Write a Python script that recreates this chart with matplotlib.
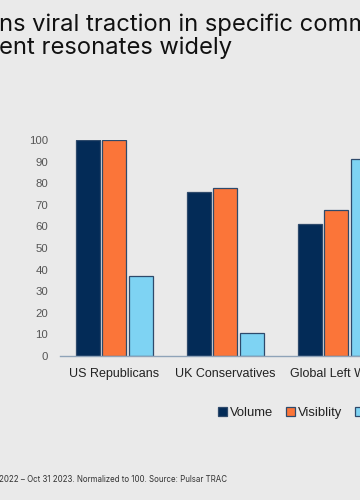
import matplotlib
matplotlib.use("Agg")
import matplotlib.pyplot as plt
import numpy as np

categories = ["US Republicans", "UK Conservatives", "Global Left Wing"]
series_names = ["Volume", "Visiblity", "Engagement"]
volume = [100, 76, 61]
visibility = [100, 78, 67.5]
engagement = [37, 10.5, 91]
yticks = list(range(0, 101, 10))
title_lines = ["ns viral traction in specific communities,", "ent resonates widely"]
footnote = "2022 \u2013 Oct 31 2023. Normalized to 100. Source: Pulsar TRAC"

bg = "#EAEAEA"
colors = ["#032B57", "#FB7539", "#7ED3F3"]
edge = "#2E4A6B"

fig = plt.figure(figsize=(3.6, 5.0), dpi=100, facecolor=bg)
W, H = 360, 500
ax_left = 60 / W
ax_bottom = (H - 356) / H
ax_height = 216 / H
xmin, xmax = -0.49, 2.8
ax_width = (xmax - xmin) * 111 / W
ax = fig.add_axes([ax_left, ax_bottom, ax_width, ax_height])
ax.set_facecolor(bg)

x = np.arange(len(categories))
offsets = [-0.24, 0.0, 0.24]
width = 0.215
handles = []
for vals, off, c, name in zip([volume, visibility, engagement], offsets, colors, series_names):
    b = ax.bar(x + off, vals, width, color=c, edgecolor=edge, linewidth=0.9, label=name)
    handles.append(b)

ax.set_xlim(xmin, xmax)
ax.set_ylim(0, 100)
ax.set_yticks(yticks)
ax.set_yticklabels([str(t) for t in yticks], fontsize=8.2, color="#555555", family="Liberation Sans")
ax.set_xticks(x)
ax.set_xticklabels(categories, fontsize=9, color="#222222", family="Liberation Sans")
ax.tick_params(axis="both", length=0)
ax.tick_params(axis="y", pad=8.5)
ax.tick_params(axis="x", pad=8.5)
for s in ["top", "right", "left"]:
    ax.spines[s].set_visible(False)
ax.spines["bottom"].set_color("#8FA3B8")
ax.spines["bottom"].set_linewidth(1.0)

leg = fig.legend(handles=handles, labels=series_names, loc="center left",
                 bbox_to_anchor=(218 / W, (H - 413) / H), ncol=3, frameon=False,
                 handlelength=0.7, handleheight=0.7, handletextpad=0.2,
                 columnspacing=1.0, borderpad=0, borderaxespad=0,
                 prop={"family": "Liberation Sans", "size": 9.4})
for t in leg.get_texts():
    t.set_color("#222222")

fig.text(-0.003, (H - 25) / H, title_lines[0], fontsize=17.1, color="#111111",
         family="Inter", va="center", ha="left")
fig.text(-0.003, (H - 48) / H, title_lines[1], fontsize=17.1, color="#111111",
         family="Inter", va="center", ha="left")
fig.text(-0.002, (H - 480) / H, footnote, fontsize=5.7, color="#333333",
         family="Inter", va="center", ha="left")

fig.savefig("out.png", dpi=100, facecolor=bg)
